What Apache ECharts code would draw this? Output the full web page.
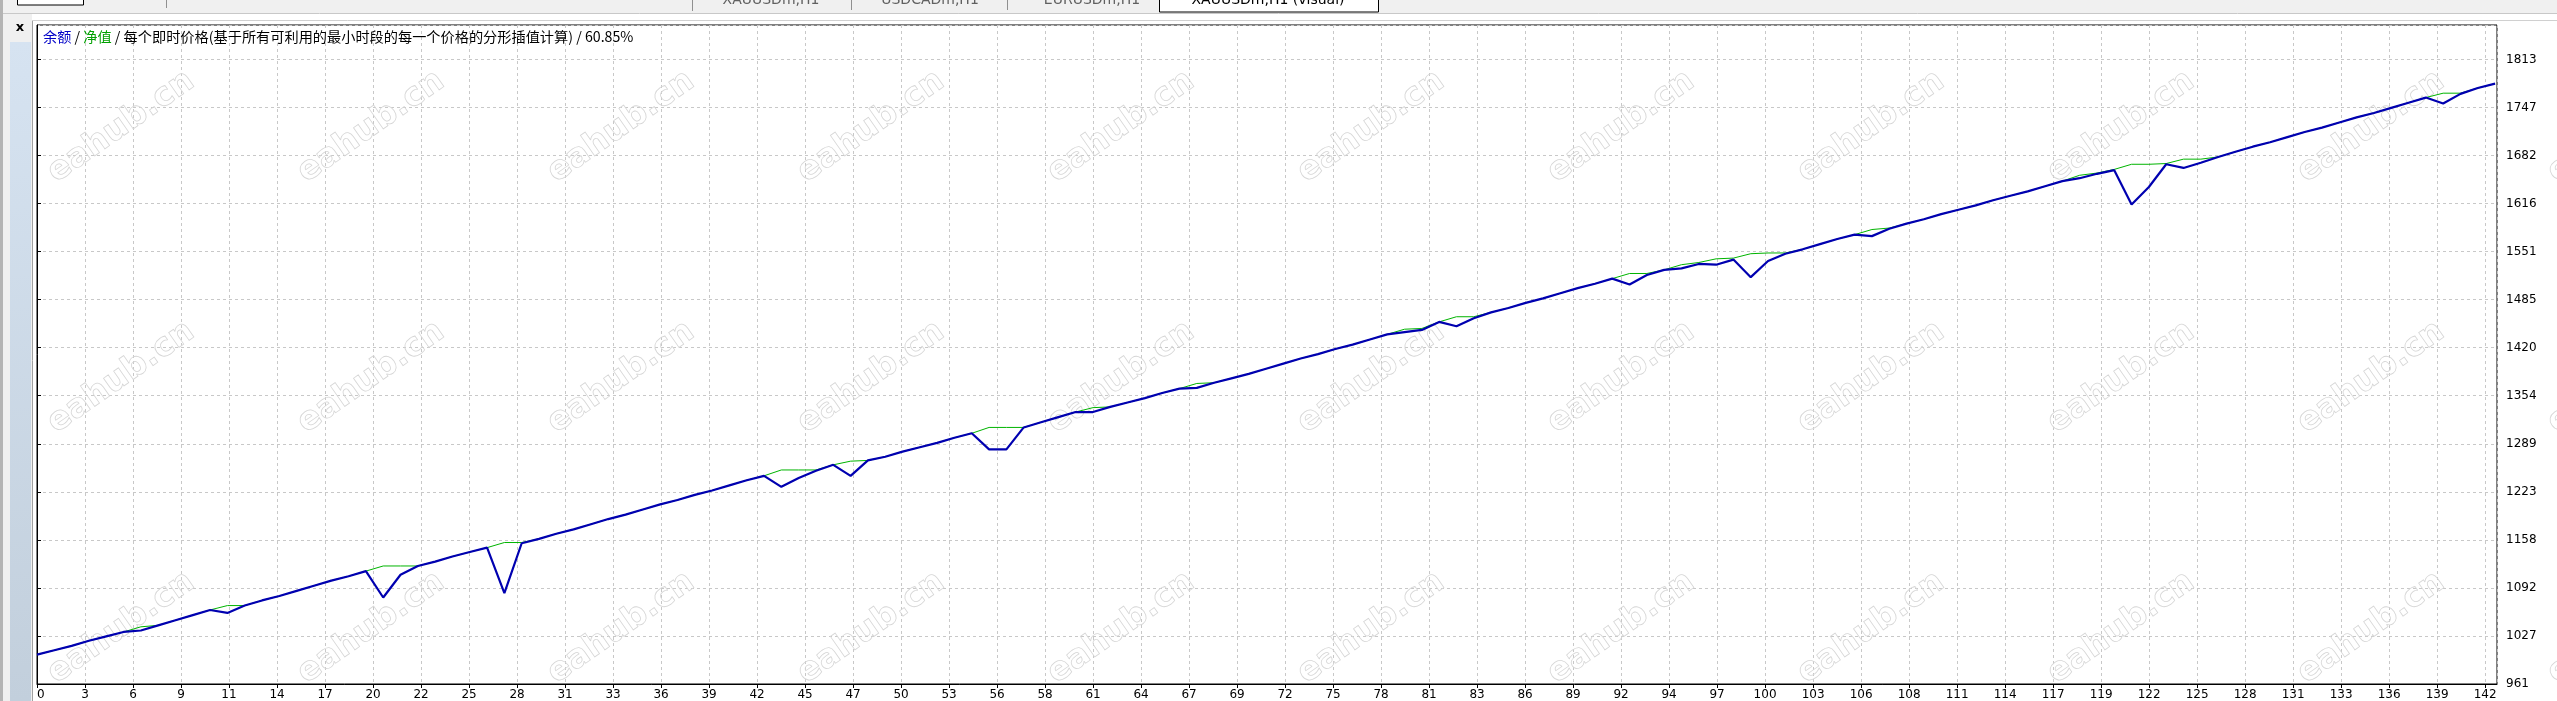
<!DOCTYPE html>
<html>
<head>
<meta charset="utf-8">
<script src="https://cdn.jsdelivr.net/npm/echarts@6/dist/echarts.min.js"></script>
<style>
html,body{margin:0;padding:0;background:#fff;}
#chart{width:2557px;height:701px;}
</style>
</head>
<body>
<div id="chart"></div>
<script>
// ---- data (trade number -> account value) ----
const balance = [
1001,1007,1013,1020,1026,1032,1034,1041,1048,1055,
1062,1058,1068,1075,1081,1088,1095,1102,1108,1115,
1079,1110,1122,1128,1135,1141,1147,1085,1153,1159,
1166,1172,1179,1186,1192,1199,1206,1212,1219,1225,
1232,1239,1245,1230,1242,1252,1260,1245,1266,1271,
1278,1284,1290,1297,1303,1281,1281,1311,1318,1325,
1332,1332,1339,1345,1351,1358,1364,1365,1372,1378,
1384,1391,1398,1405,1411,1418,1424,1431,1438,1441,
1444,1455,1449,1460,1468,1474,1481,1487,1494,1501,
1507,1514,1506,1519,1526,1528,1534,1533,1540,1516,
1538,1548,1554,1561,1568,1574,1572,1582,1589,1595,
1602,1608,1614,1621,1627,1633,1640,1647,1651,1657,
1662,1615,1639,1670,1665,1672,1680,1687,1694,1700,
1707,1714,1720,1727,1734,1740,1747,1754,1761,1753,
1766,1774,1780
];
const equity = [
1001,1007,1013,1020,1026,1032,1039,1041,1048,1055,
1062,1068,1068,1075,1081,1088,1095,1102,1108,1115,
1122,1122,1122,1128,1135,1141,1147,1154,1154,1159,
1166,1172,1179,1186,1192,1199,1206,1212,1219,1225,
1232,1239,1245,1253,1253,1253,1260,1265,1266,1271,
1278,1284,1290,1297,1303,1311,1311,1311,1318,1325,
1332,1338,1339,1345,1351,1358,1364,1371,1372,1378,
1384,1391,1398,1405,1411,1418,1424,1431,1438,1445,
1446,1455,1462,1462,1468,1474,1481,1487,1494,1501,
1507,1514,1521,1521,1526,1533,1536,1541,1542,1548,
1549,1549,1554,1561,1568,1574,1581,1583,1589,1595,
1602,1608,1614,1621,1627,1633,1640,1647,1655,1658,
1663,1670,1670,1671,1677,1677,1680,1687,1694,1700,
1707,1714,1720,1727,1734,1740,1747,1754,1761,1767,
1767,1774,1780
];
// tick labels as printed in the reference
const xTickLabels = ['0','3','6','9','11','14','17','20','22','25','28','31','33','36','39','42','45','47','50','53',
  '56','58','61','64','67','69','72','75','78','81','83','86','89','92','94','97','100','103','106','108',
  '111','114','117','119','122','125','128','131','133','136','139','142'];
const yTickLabels = ['961','1027','1092','1158','1223','1289','1354','1420','1485','1551','1616','1682','1747','1813'];
// axis scale settings
const xMin = 0, xMax = 142.11, xStep = 2.773;
const yMin = 961, yMax = 1860, yStep = 65.538;
const tabLabels = ['XAUUSDm,H1', 'USDCADm,H1', 'EURUSDm,H1', 'XAUUSDm,H1 (visual)'];
const legendBalance = '余额';
const legendEquity = '净值';
const legendRest = '每个即时价格(基于所有可利用的最小时段的每一个价格的分形插值计算)';
const quality = '60.85%';
const watermark = 'eahub.cn';

const chart = echarts.init(document.getElementById('chart'), null, {renderer: 'canvas'});
const FONT = '"DejaVu Sans", Tahoma, sans-serif';

const graphics = [];
// window chrome
graphics.push({type:'rect', shape:{x:0,y:0,width:2557,height:13}, style:{fill:'#f0f0f0'}, z:-5, silent:true});
graphics.push({type:'line', shape:{x1:0,y1:13.5,x2:2557,y2:13.5}, style:{stroke:'#c8c8c8',lineWidth:1}, z:-4, silent:true});
graphics.push({type:'rect', shape:{x:0,y:14,width:32,height:687}, style:{fill:'#f0f0f0'}, z:-5, silent:true});
graphics.push({type:'rect', shape:{x:0,y:0,width:3,height:701}, style:{fill:'#b4b4b4'}, z:-4, silent:true});
graphics.push({type:'rect', shape:{x:10,y:42,width:21,height:659},
  style:{fill:new echarts.graphic.LinearGradient(0,0,0,1,[{offset:0,color:'#d6e3f1'},{offset:1,color:'#c2cfdc'}])}, z:-4, silent:true});
graphics.push({type:'line', shape:{x1:32.5,y1:20,x2:32.5,y2:701}, style:{stroke:'#a0a0a0',lineWidth:1}, z:-4, silent:true});
graphics.push({type:'line', shape:{x1:32,y1:20.5,x2:2557,y2:20.5}, style:{stroke:'#d0d0d0',lineWidth:1}, z:-4, silent:true});
graphics.push({type:'text', x:20, y:28, style:{text:'x', font:'bold 13px ' + FONT, fill:'#000', align:'center', verticalAlign:'middle', textAlign:'center', textVerticalAlign:'middle'}, z:-3, silent:true});
// tab bar
graphics.push({type:'rect', shape:{x:17.5,y:-3,width:66,height:8}, style:{fill:'#fff',stroke:'#000',lineWidth:1}, z:-3, silent:true});
graphics.push({type:'line', shape:{x1:166.5,y1:0,x2:166.5,y2:8}, style:{stroke:'#909090',lineWidth:1}, z:-3, silent:true});
graphics.push({type:'line', shape:{x1:692.5,y1:0,x2:692.5,y2:11}, style:{stroke:'#909090',lineWidth:1}, z:-3, silent:true});
graphics.push({type:'line', shape:{x1:851.5,y1:0,x2:851.5,y2:10}, style:{stroke:'#909090',lineWidth:1}, z:-3, silent:true});
graphics.push({type:'line', shape:{x1:1007.5,y1:0,x2:1007.5,y2:10}, style:{stroke:'#909090',lineWidth:1}, z:-3, silent:true});
graphics.push({type:'rect', shape:{x:1159.5,y:-3,width:219,height:15}, style:{fill:'#fff',stroke:'#000',lineWidth:1}, z:-3, silent:true});
const tabCenters = [771, 930, 1092, 1268];
tabLabels.forEach((t, i) => {
  graphics.push({type:'text', x:tabCenters[i], y:0.5, style:{text:t, font:'14px ' + FONT, fill: i === 3 ? '#000' : '#606060',
    align:'center', verticalAlign:'middle', textAlign:'center', textVerticalAlign:'middle'}, z:-2, silent:true});
});
// watermark grid
for (let c = 0; c < 11; c++) {
  for (let r = 0; r < 3; r++) {
    graphics.push({type:'text', x:121 + 250 * c, y:127 + 250.5 * r, rotation: 35 * Math.PI / 180,
      style:{text:watermark, font:'bold 33px ' + FONT, fill:'rgba(255,255,255,0)', stroke:'#d6d6d6', lineWidth:0.8,
        align:'center', verticalAlign:'middle', textAlign:'center', textVerticalAlign:'middle'}, z:1, silent:true});
  }
}

const option = {
  animation: false,
  backgroundColor: '#fff',
  title: {
    left: 43, top: 30, padding: 0,
    text: '{b|' + legendBalance + '} / {g|' + legendEquity + '} / ' + legendRest + ' / ' + quality,
    textStyle: {
      fontSize: 14.2, fontWeight: 'normal', color: '#000', fontFamily: '"Noto Sans CJK SC", sans-serif',
      rich: {
        b: {color: '#0000c8', fontSize: 14.2, fontFamily: '"Noto Sans CJK SC", sans-serif'},
        g: {color: '#00a000', fontSize: 14.2, fontFamily: '"Noto Sans CJK SC", sans-serif'}
      }
    }
  },
  grid: {left: 37, right: 60, top: 25, bottom: 17, show: true, backgroundColor: '#fff', borderColor: '#000', borderWidth: 1, containLabel: false},
  xAxis: {
    type: 'value', min: xMin, max: xMax, interval: xStep,
    axisLine: {show: true, lineStyle: {color: '#000', width: 1}},
    axisTick: {show: true, inside: false, length: 4, lineStyle: {color: '#000'}},
    axisLabel: {show: true, margin: 5, color: '#000', fontSize: 12, fontFamily: FONT,
      showMaxLabel: false, alignMinLabel: 'left',
      formatter: v => { const k = Math.round(v / xStep); return xTickLabels[k] !== undefined ? xTickLabels[k] : ''; }},
    splitLine: {show: true, lineStyle: {color: '#c8c8c8', width: 1, type: [3, 3]}}
  },
  yAxis: {
    type: 'value', position: 'right', min: yMin, max: yMax, interval: yStep,
    axisLine: {show: true, lineStyle: {color: '#000', width: 1}},
    axisTick: {show: true, inside: false, length: 4, lineStyle: {color: '#000'}},
    axisLabel: {show: true, margin: 9, color: '#000', fontSize: 12, fontFamily: FONT,
      showMaxLabel: false,
      formatter: v => { const k = Math.round((v - yMin) / yStep); return yTickLabels[k] !== undefined ? yTickLabels[k] : ''; }},
    splitLine: {show: true, lineStyle: {color: '#c8c8c8', width: 1, type: [3, 3]}}
  },
  series: [
    {name: legendEquity, type: 'line', data: equity.map((v, i) => [i, v]), showSymbol: false, symbol: 'none',
      lineStyle: {color: '#00b400', width: 1}, z: 3, silent: true},
    {name: legendBalance, type: 'line', data: balance.map((v, i) => [i, v]), showSymbol: false, symbol: 'none',
      lineStyle: {color: '#0000b0', width: 2.2}, z: 4, silent: true}
  ],
  graphic: {elements: graphics}
};
chart.setOption(option);
</script>
</body>
</html>
